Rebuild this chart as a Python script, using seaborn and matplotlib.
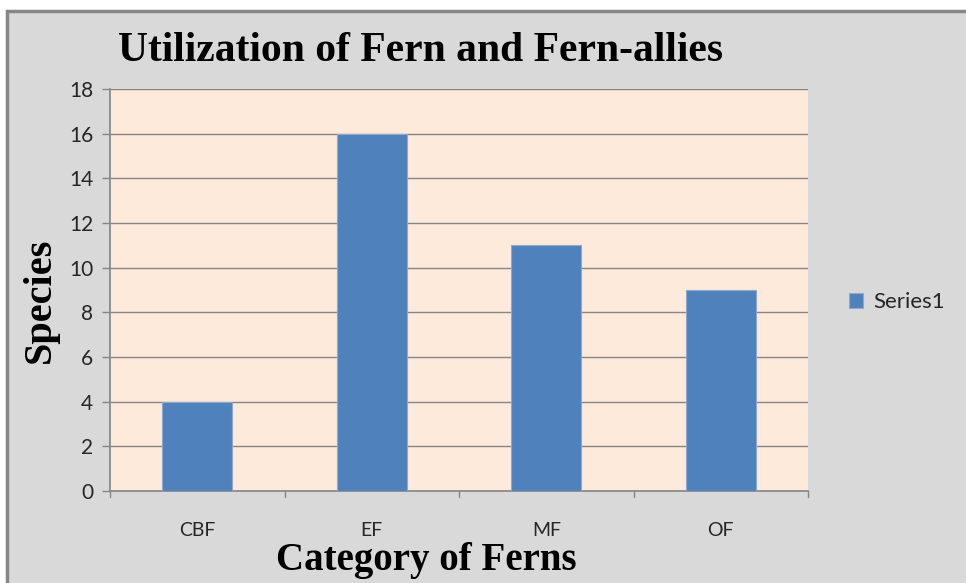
import matplotlib
matplotlib.use("Agg")
import matplotlib.pyplot as plt
import seaborn as sns
import pandas as pd
from matplotlib.patches import Rectangle

categories = ["CBF", "EF", "MF", "OF"]
species = [4, 16, 11, 9]
y_ticks = [0, 2, 4, 6, 8, 10, 12, 14, 16, 18]
series_name = "Series1"

df = pd.DataFrame({"Category": categories, "Species": species, "Series": series_name})

sns.set_theme(style="white")
plt.rcParams["font.family"] = ["Lato", "DejaVu Sans"]

W, H = 966, 583
fig = plt.figure(figsize=(W / 100, H / 100), dpi=100, facecolor="white")

# gray chart panel with its darker frame
panel = Rectangle((7 / W, -0.01), 1.01 - 7 / W, 1.01 - 11 / H, transform=fig.transFigure,
                  facecolor="#D9D9D9", edgecolor="#868686", linewidth=2.5, zorder=-5)
fig.add_artist(panel)

ax = fig.add_axes([110 / W, 1 - 491 / H, (808 - 110) / W, (491 - 89) / H])
ax.set_zorder(2)
ax.set_facecolor("#FDEADA")

sns.barplot(data=df, x="Category", y="Species", hue="Series", palette=["#4F81BD"],
            saturation=1, width=0.4, edgecolor="#8FA9CC", linewidth=0.8, ax=ax, zorder=3)

ax.set_ylim(0, 18)
ax.set_xlim(-0.5, 3.5)
ax.set_yticks(y_ticks)
ax.set_yticklabels([str(v) for v in y_ticks], fontsize=15, color="#262626")
ax.set_xticks(range(len(categories)))
ax.set_xticklabels(categories, fontsize=14, color="#262626")
ax.tick_params(axis="x", length=0, pad=22)
ax.tick_params(axis="y", length=6, color="#868686", direction="out", pad=6, width=1)
ax.yaxis.set_tick_params(left=True)

ax.grid(axis="y", color="#868686", linewidth=1, zorder=1)
ax.set_axisbelow(True)
for s in ["top", "right"]:
    ax.spines[s].set_visible(False)
ax.spines["left"].set_color("#868686")
ax.spines["bottom"].set_color("#868686")
ax.spines["bottom"].set_linewidth(1.2)

# category separator ticks along the bottom axis
for xb in [-0.5, 0.5, 1.5, 2.5, 3.5]:
    ax.plot([xb, xb], [0, -0.27], color="#868686", linewidth=1,
            clip_on=False, zorder=2)

ax.set_xlabel("")
ax.set_ylabel("")

fig.text(420 / W, 1 - 51 / H, "Utilization of Fern and Fern-allies",
         family="Liberation Serif", fontweight="bold", fontsize=30,
         ha="center", va="center", color="black")
fig.text(40 / W, 1 - 300 / H, "Species", family="Liberation Serif", fontweight="bold",
         fontsize=29, rotation=90, ha="center", va="center", color="black")
fig.text(426 / W, 4 / H, "Category of Ferns", family="Liberation Serif",
         fontweight="bold", fontsize=28, ha="center", va="bottom", color="black")

leg = ax.legend(loc="center left", bbox_to_anchor=(1.03, 0.47), frameon=False,
                fontsize=16, handlelength=0.65, handleheight=0.65, handletextpad=0.45)
for t in leg.get_texts():
    t.set_color("#262626")

fig.savefig("out.png", dpi=100, facecolor="white")
